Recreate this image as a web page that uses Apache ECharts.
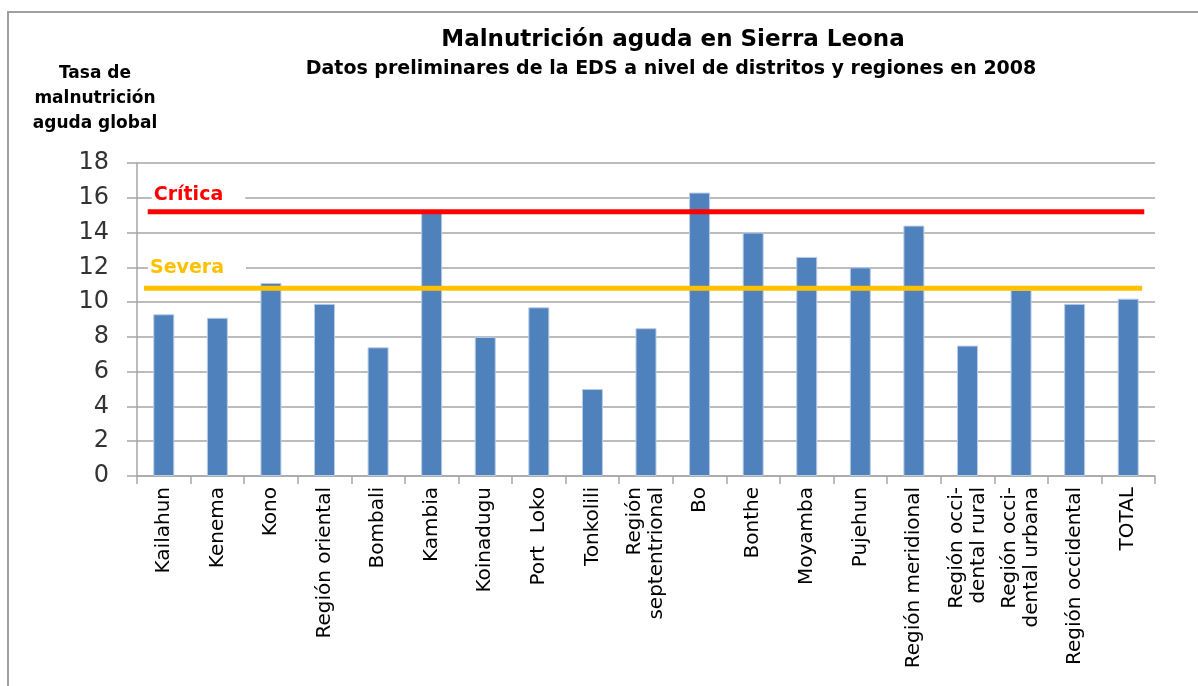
<!DOCTYPE html>
<html>
<head>
<meta charset="utf-8">
<script src="https://cdn.jsdelivr.net/npm/echarts@6/dist/echarts.min.js"></script>
<style>
  html, body { margin: 0; padding: 0; background: #fff; }
  #main { width: 1198px; height: 686px; }
</style>
</head>
<body>
<div id="main"></div>
<script>
// categorías (distritos y regiones)
const categorias = [
  'Kailahun', 'Kenema', 'Kono', 'Región oriental', 'Bombali', 'Kambia',
  'Koinadugu', 'Port  Loko', 'Tonkolili', 'Región\nseptentrional', 'Bo',
  'Bonthe', 'Moyamba', 'Pujehun', 'Región meridional',
  'Región occi-\ndental rural', 'Región occi-\ndental urbana',
  'Región occidental', 'TOTAL'
];
// tasa de malnutrición aguda global (%)
const tasas = [9.3, 9.1, 11.1, 9.9, 7.4, 15.2, 8.0, 9.7, 5.0, 8.5, 16.3,
  14.0, 12.6, 12.0, 14.4, 7.5, 10.7, 9.9, 10.2];
// umbrales (inicio y fin de cada línea en el eje auxiliar)
const critica = [[-0.3, 15.2], [18.3, 15.2]];
const severa = [[-0.37, 10.8], [18.26, 10.8]];
const yTicks = [0, 18, 2]; // min, max, intervalo

const font = '"DejaVu Sans", Verdana, sans-serif';
const gris = '#a6a6a6';

let chart = echarts.init(document.getElementById('main'));

function umbral(nombre, datos, color, ancho) {
  return {
    name: nombre,
    type: 'line',
    xAxisIndex: 1,
    symbol: 'none',
    silent: true,
    z: 5,
    lineStyle: { color: color, width: ancho },
    data: datos
  };
}

chart.setOption({
  animation: false,
  title: [
    {
      text: 'Malnutrición aguda en Sierra Leona',
      left: 668, top: 24, textAlign: 'center',
      textStyle: { fontFamily: font, fontWeight: 'bold', fontSize: 23, color: '#000' }
    },
    {
      text: 'Datos preliminares de la EDS a nivel de distritos y regiones en 2008',
      left: 666, top: 55, textAlign: 'center',
      textStyle: { fontFamily: font, fontWeight: 'bold', fontSize: 19, color: '#000' }
    }
  ],
  grid: { left: 137, right: 43, top: 163, bottom: 210 },
  xAxis: [
    {
      type: 'category',
      data: categorias,
      axisLine: { lineStyle: { color: gris, width: 1.5 } },
      axisTick: { show: true, length: 8, lineStyle: { color: gris, width: 1.5 } },
      axisLabel: {
        interval: 0, rotate: 90, margin: 11,
        fontFamily: font, fontSize: 20, color: '#000', lineHeight: 22
      }
    },
    { type: 'value', min: -0.5, max: 18.5, show: false }
  ],
  yAxis: {
    type: 'value',
    min: yTicks[0], max: yTicks[1], interval: yTicks[2],
    axisLine: { show: true, onZero: false, lineStyle: { color: gris, width: 1.5 } },
    axisTick: { show: true, length: 10, lineStyle: { color: gris, width: 1.5 } },
    splitLine: { lineStyle: { color: gris, width: 1.5 } },
    axisLabel: { margin: 28, fontFamily: font, fontSize: 24, color: '#333' }
  },
  series: [
    {
      type: 'bar',
      data: tasas,
      barWidth: 21,
      itemStyle: { color: '#4f81bd', borderColor: '#b9cde5', borderWidth: 1 }
    },
    umbral('Crítica', critica, '#ff0000', 5),
    umbral('Severa', severa, '#ffc000', 5)
  ]
});

// etiquetas de los umbrales, colocadas con las escalas del gráfico
function etiqueta(nombre, datos, color, dy) {
  const p = chart.convertToPixel({ xAxisIndex: 1, yAxisIndex: 0 }, datos[0]);
  return {
    type: 'text',
    x: p[0] + 4, y: p[1] - dy,
    z: 10,
    style: {
      text: nombre, fill: color, fontFamily: font, fontWeight: 'bold', fontSize: 19,
      verticalAlign: 'middle', backgroundColor: '#fff', padding: [1, 22, 1, 2]
    }
  };
}

chart.setOption({
  graphic: [
    {
      type: 'rect',
      shape: { x: 8, y: 12, width: 1220, height: 700 },
      style: { fill: 'none', stroke: '#a0a0a0', lineWidth: 2 },
      silent: true
    },
    {
      type: 'text',
      x: 95, y: 61,
      style: {
        text: 'Tasa de\nmalnutrición\naguda global',
        align: 'center', verticalAlign: 'top',
        fontFamily: font, fontWeight: 'bold', fontSize: 17, lineHeight: 25, fill: '#000'
      }
    },
    etiqueta('Crítica', critica, '#ff0000', 17),
    etiqueta('Severa', severa, '#ffc000', 20)
  ]
});
</script>
</body>
</html>
